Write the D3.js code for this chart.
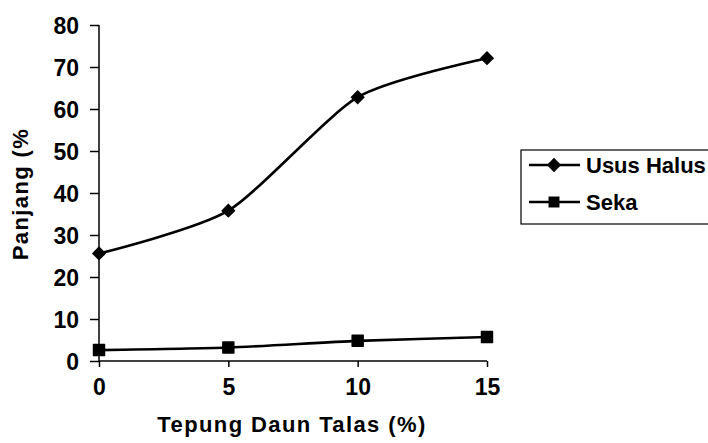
<!DOCTYPE html>
<html><head><meta charset="utf-8">
<script src="https://cdn.jsdelivr.net/npm/d3@7"></script>
<style>body{margin:0;background:#fff}svg{display:block}text{font-family:"Liberation Sans",Arial,sans-serif;font-weight:bold;fill:#000}</style>
</head><body><svg id="c" width="708" height="443"></svg>
<script>
const xValues = [0, 5, 10, 15];
const ususHalus = [25.6, 35.8, 62.8, 72.1];
const seka = [2.6, 3.2, 4.8, 5.7];
const yTicks = [0, 10, 20, 30, 40, 50, 60, 70, 80];
const xTicks = [0, 5, 10, 15];
const seriesNames = ["Usus Halus", "Seka"];

const svg = d3.select("#c");
const x = d3.scaleLinear().domain([0, 15]).range([99, 487]);
const y = d3.scaleLinear().domain([0, 80]).range([361, 25]);

// Y axis
const yAxis = svg.append("g").attr("transform", "translate(99,0)")
  .call(d3.axisLeft(y).tickValues(yTicks).tickSize(9).tickPadding(11).tickFormat(d3.format("d")));
yAxis.attr("font-size", null);
yAxis.selectAll("text").style("font-size", "23px").attr("dy", "0.36em");
yAxis.selectAll("path,line").attr("stroke", "#000").attr("stroke-width", 1.5);
yAxis.select(".domain").attr("d", `M0,${y(80)}V${y(0)}`);

// X axis
const xAxis = svg.append("g").attr("transform", "translate(0,361)")
  .call(d3.axisBottom(x).tickValues(xTicks).tickSize(6).tickPadding(12).tickFormat(d3.format("d")));
xAxis.attr("font-size", null);
xAxis.selectAll("text").style("font-size", "23px");
xAxis.selectAll("path,line").attr("stroke", "#000").attr("stroke-width", 1.5);
xAxis.select(".domain").attr("d", `M${x(0)},0H${x(15)}`);

// Lines
const line = d3.line().x((d, i) => x(xValues[i])).y(d => y(d)).curve(d3.curveCardinal.tension(0.3));
svg.append("path").datum(ususHalus).attr("d", line).attr("fill", "none").attr("stroke", "#000").attr("stroke-width", 2.6);
svg.append("path").datum(seka).attr("d", line).attr("fill", "none").attr("stroke", "#000").attr("stroke-width", 2.6);

const diamond = d3.symbol().type(d3.symbolDiamond2).size(130);
const square = d3.symbol().type(d3.symbolSquare).size(120);
svg.append("g").selectAll("path").data(ususHalus).join("path")
  .attr("d", diamond).attr("transform", (d, i) => `translate(${x(xValues[i])},${y(d)})`).attr("fill", "#000");
svg.append("g").selectAll("path").data(seka).join("path")
  .attr("d", square).attr("transform", (d, i) => `translate(${x(xValues[i])},${y(d)})`).attr("fill", "#000")
  .attr("stroke", "#000").attr("stroke-width", 1.5).attr("stroke-linejoin", "round");

// Axis titles
svg.append("text").attr("x", 292).attr("y", 432).attr("text-anchor", "middle")
  .style("font-size", "22px").style("letter-spacing", "1.4px").text("Tepung Daun Talas (%)");
svg.append("text").attr("transform", "translate(28,194) rotate(-90)").attr("text-anchor", "middle")
  .style("font-size", "22px").style("letter-spacing", "1.4px").text("Panjang (%");

// Legend
const lg = svg.append("g");
lg.append("rect").attr("x", 521).attr("y", 150).attr("width", 220).attr("height", 74)
  .attr("fill", "none").attr("stroke", "#000").attr("stroke-width", 1.2);
const legY = [165, 202];
const legSym = [diamond, square];
seriesNames.forEach((n, i) => {
  lg.append("line").attr("x1", 529).attr("x2", 580).attr("y1", legY[i]).attr("y2", legY[i]).attr("stroke", "#000").attr("stroke-width", 2.6);
  lg.append("path").attr("d", legSym[i]).attr("transform", `translate(554,${legY[i]})`).attr("fill", "#000");
  lg.append("text").attr("x", 586).attr("y", legY[i] + 8).style("font-size", "22px").text(n);
});
</script></body></html>
